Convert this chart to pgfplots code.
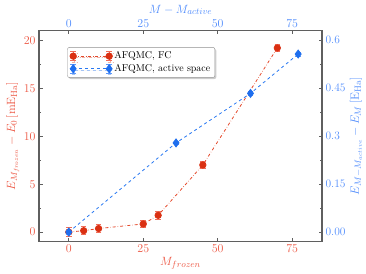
\documentclass[border=0pt]{standalone}
\usepackage{pgfplots}
\pgfplotsset{compat=1.18}
\usetikzlibrary{shadows}
\definecolor{mred}{RGB}{218,48,18}
\definecolor{rline}{RGB}{228,72,42}
\definecolor{ebred}{RGB}{240,110,90}
\definecolor{lblred}{RGB}{236,86,66}
\definecolor{mblue}{RGB}{30,110,238}
\definecolor{bline}{RGB}{40,120,242}
\definecolor{ebblue}{RGB}{90,150,250}
\definecolor{lblblue}{RGB}{80,140,252}
\definecolor{axgray}{RGB}{95,95,95}
\pgfplotsset{
  common/.style={
    scale only axis, width=283bp, height=211bp,
    xmin=-10, xmax=85,
    tick align=inside,
    major tick length=3.5bp, minor tick length=2bp,
    every tick/.style={axgray, line width=0.8pt},
    xtick={0,25,50,75},
    minor y tick num=1,
    xlabel near ticks, ylabel near ticks,
    tick label style={font=\fontsize{11.5}{13}\selectfont},
    label style={font=\fontsize{13}{15}\selectfont, inner sep=1pt},
  },
  redleg/.style={legend image code/.code={
    \draw[ebred, line width=0.8pt, solid] (0bp,-4.5bp)--(0bp,4.5bp) (-2.8bp,-4.5bp)--(2.8bp,-4.5bp) (-2.8bp,4.5bp)--(2.8bp,4.5bp)
      (36bp,-4.5bp)--(36bp,4.5bp) (33.2bp,-4.5bp)--(38.8bp,-4.5bp) (33.2bp,4.5bp)--(38.8bp,4.5bp);
    \draw[##1] plot coordinates {(0bp,0bp) (36bp,0bp)};
  }},
  blueleg/.style={legend image code/.code={
    \draw[ebblue, line width=0.8pt, solid] (0bp,-4.5bp)--(0bp,4.5bp) (-2.8bp,-4.5bp)--(2.8bp,-4.5bp) (-2.8bp,4.5bp)--(2.8bp,4.5bp)
      (36bp,-4.5bp)--(36bp,4.5bp) (33.2bp,-4.5bp)--(38.8bp,-4.5bp) (33.2bp,4.5bp)--(38.8bp,4.5bp);
    \draw[##1] plot coordinates {(0bp,0bp) (36bp,0bp)};
  }},
}
\begin{document}
\begin{tikzpicture}
\begin{axis}[common,
  ymin=-1, ymax=21,
  ytick={0,5,10,15,20},
  xtick pos=left, ytick pos=left,
  axis line style={axgray, line width=1.2pt},
  xticklabel style={lblred}, yticklabel style={lblred},
  xlabel={$M_{frozen}$}, ylabel={$E_{M_{frozen}}-E_0\,[\mathrm{mE}_{\mathrm{Ha}}]$},
  xlabel style={lblred}, ylabel style={lblred},
]
\addplot[color=rline, dash dot, line width=0.8pt, mark=*, mark size=3.2bp,
  mark options={solid, fill=mred, draw=mred},
  error bars/.cd, y dir=both, y explicit,
  error bar style={color=ebred, line width=0.8pt, solid},
  error mark options={rotate=90, mark size=2.8bp, ebred, line width=0.8pt}]
coordinates {
(0,0) +- (0,0.45)
(5,0.15) +- (0,0.4)
(10,0.37) +- (0,0.4)
(25,0.85) +- (0,0.4)
(30,1.75) +- (0,0.4)
(45,7.0) +- (0,0.35)
(70,19.2) +- (0,0.4)
};
\end{axis}
\begin{axis}[common,
  ymin=-0.03, ymax=0.63,
  ytick={0,0.15,0.3,0.45,0.6},
  yticklabels={0.00,0.15,0.3,0.45,0.6},
  axis line style={draw=none},
  xtick pos=right, xticklabel pos=right,
  ytick pos=right, yticklabel pos=right,
  xticklabel style={lblblue}, yticklabel style={lblblue},
  xlabel={$M-M_{active}$}, ylabel={$E_{M-M_{active}}-E_M\,[\mathrm{E}_{\mathrm{Ha}}]$},
  xlabel style={lblblue}, ylabel style={lblblue},
  legend style={at={(0.1,0.922)}, anchor=north west, draw=axgray!70, fill=white,
    rounded corners=2pt, drop shadow={shadow xshift=1.5pt, shadow yshift=-1.5pt, opacity=0.4},
    font=\fontsize{10}{12}\selectfont, cells={anchor=west}, row sep=0pt, inner sep=2.5pt},
]
\addlegendimage{color=rline, dash dot, line width=0.8pt, mark=*, mark size=3.2bp,
  mark options={solid, fill=mred, draw=mred}, redleg}
\addlegendentry{AFQMC, FC}
\addplot[color=bline, dashed, line width=0.8pt, mark=diamond*, mark size=4bp,
  mark options={solid, fill=mblue, draw=mblue}, blueleg,
  error bars/.cd, y dir=both, y explicit,
  error bar style={color=ebblue, line width=0.8pt, solid},
  error mark options={rotate=90, mark size=2.5bp, ebblue, line width=0.8pt}]
coordinates {
(0,0) +- (0,0.006)
(36,0.279) +- (0,0.006)
(61,0.434) +- (0,0.006)
(77,0.557) +- (0,0.006)
};
\addlegendentry{AFQMC, active space}
\end{axis}
\pgfresetboundingbox
\useasboundingbox (-39bp,-32.3bp) rectangle (327bp,241.7bp);
\end{tikzpicture}
\end{document}
